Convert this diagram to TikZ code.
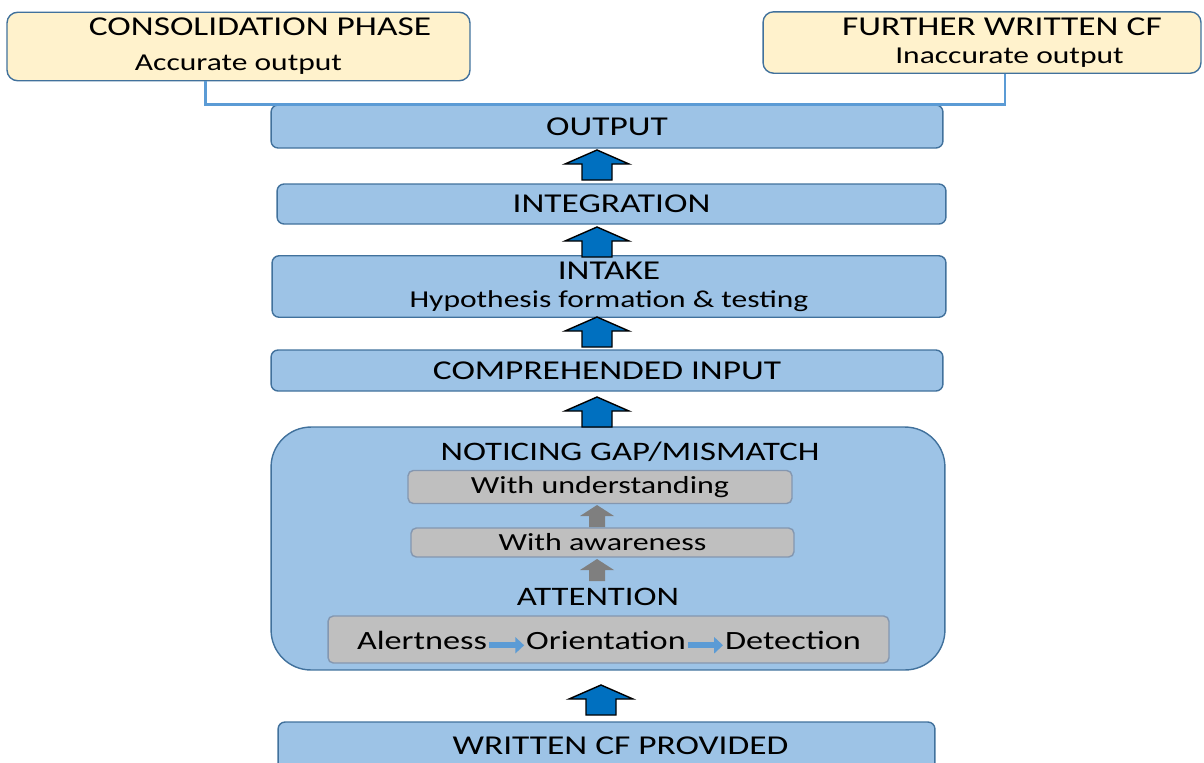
\documentclass[tikz,border=0pt]{standalone}
\usepackage{fontspec}
\setmainfont{Carlito}[FakeStretch=1.3]
\usetikzlibrary{arrows.meta}
\definecolor{stageblue}{HTML}{9DC3E6}
\definecolor{stageline}{HTML}{41719C}
\definecolor{creamfill}{HTML}{FFF2CC}
\definecolor{greyfill}{HTML}{BFBFBF}
\definecolor{greyline}{HTML}{8497B0}
\definecolor{arrowblue}{HTML}{0070C0}
\definecolor{linkblue}{HTML}{5B9BD5}
\definecolor{stepgrey}{HTML}{7F7F7F}
\newcommand{\subline}{\fontsize{13.8}{16}\selectfont}
\tikzstyle{stage} = [rectangle, rounded corners=4pt, draw=stageline, line width=0.8pt, fill=stageblue, align=center, minimum width=13.44cm, font=\fontsize{15.5}{16}\selectfont]
\tikzstyle{result} = [rectangle, rounded corners=6pt, draw=stageline, line width=0.8pt, fill=creamfill, align=center, font=\fontsize{15.5}{19}\selectfont]
\tikzstyle{substep} = [rectangle, rounded corners=3pt, draw=greyline, line width=0.8pt, fill=greyfill, font=\fontsize{14}{16}\selectfont]
\tikzstyle{heading} = [font=\fontsize{15.2}{16}\selectfont]
\tikzstyle{word} = [inner sep=1pt, font=\fontsize{15}{16}\selectfont]
\tikzstyle{link} = [draw=linkblue, line width=1.7pt]
\tikzstyle{sidearrow} = [draw=linkblue, line width=3.2pt, -{Triangle[length=5pt, width=9pt]}]
\tikzset{
  bigup/.pic={\draw[black, fill=arrowblue, line width=0.8pt] (-15,0) -- (-15,-16) -- (-32,-16) -- (0,-30) -- (32,-16) -- (15,-16) -- (15,0) -- cycle;},
  smallup/.pic={\fill[stepgrey] (-8,0) -- (-8,-11) -- (-17,-11) -- (0,-22) -- (17,-11) -- (8,-11) -- (8,0) -- cycle;}
}

\begin{document}
\begin{tikzpicture}[x=0.02cm, y=-0.02cm]
\useasboundingbox (0,0) rectangle (1204,762);

% outcomes
\node (cons) [result, minimum width=9.26cm, minimum height=1.3cm] at (238.5,46.5) {\hspace*{0.86cm}CONSOLIDATION PHASE\\[1pt]{\subline Accurate output}};
\node (fwcf) [result, minimum width=8.76cm, minimum height=1.22cm, font=\fontsize{15.5}{16}\selectfont] at (982,42.5) {\hspace*{0.8cm}FURTHER WRITTEN CF\\{\subline\hspace*{1.1cm}Inaccurate output}};

% main stages
\node (out) [stage, minimum height=0.86cm] at (607,126.5) {OUTPUT};
\node (integ) [stage, minimum width=13.38cm, minimum height=0.8cm] at (611.5,204) {INTEGRATION};
\node (intake) [stage, minimum width=13.48cm, minimum height=1.06cm] at (609,286.5) {INTAKE\\{\subline Hypothesis formation \& testing}};
\node (comp) [stage, minimum height=0.82cm] at (607,370.5) {COMPREHENDED INPUT};
\node (notice) [stage, minimum width=13.48cm, minimum height=4.86cm, rounded corners=0.8cm] at (608,548.5) {};
\node (written) [stage, minimum width=13.14cm, minimum height=0.96cm] at (606.5,746) {\hspace*{0.56cm}WRITTEN CF PROVIDED};

% inside noticing
\node (noticehead) [heading] at (630,452) {NOTICING GAP/MISMATCH};
\node (underst) [substep, minimum width=7.68cm, minimum height=0.52cm] at (600,487) {With understanding};
\node (aware) [substep, minimum width=7.66cm, minimum height=0.5cm] at (602.5,542.5) {With awareness};
\node (attn) [heading] at (598,597) {ATTENTION};
\node (attbox) [substep, minimum width=11.22cm, minimum height=0.94cm] at (608.5,639.5) {};
\node (alert) [word] at (422,640) {Alertness};
\node (orient) [word] at (606,640) {Orientation};
\node (detect) [word] at (793,640) {Detection};

\draw [sidearrow] ([yshift=-3pt]alert.east) -- ([yshift=-3pt]orient.west);
\draw [sidearrow] ([yshift=-3pt]orient.east) -- ([yshift=-3pt]detect.west);

% block arrows between stages
\pic at (597,180) {bigup};
\pic at (597,257) {bigup};
\pic at (597,347) {bigup};
\pic at (597,427) {bigup};
\pic at (601,715) {bigup};
\pic at (597,527) {smallup};
\pic at (597,581) {smallup};

% output splits to the two outcomes
\draw [link] ([xshift=-0.2cm]out.north) -- ++(0,0.24) coordinate (split);
\draw [link] ([xshift=-0.66cm]cons.south) |- (split) -| ([xshift=0.46cm]fwcf.south);
\end{tikzpicture}
\end{document}
